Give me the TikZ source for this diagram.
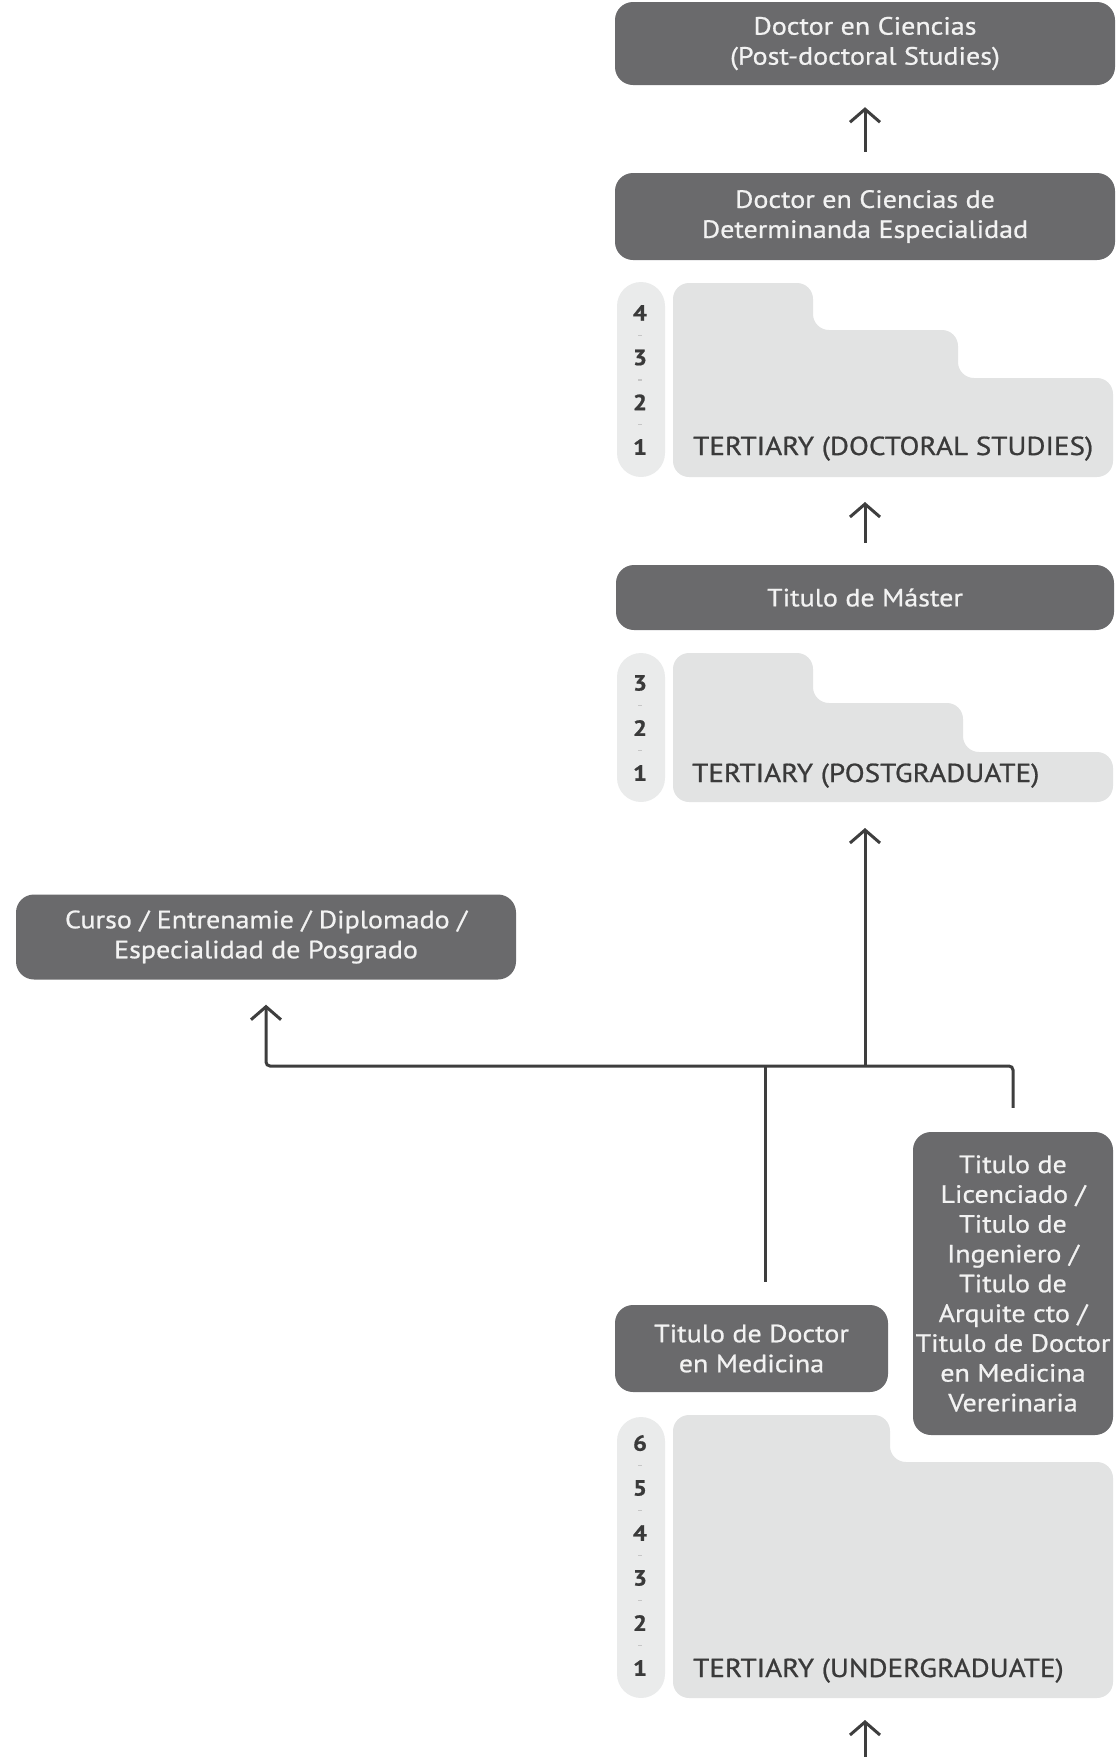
\documentclass[tikz,border=0pt]{standalone}
\usepackage{fontspec}
\setmainfont{PT Sans}[FakeStretch=1.12, FakeBold=0.8]
\usetikzlibrary{arrows.meta}
\definecolor{boxgray}{RGB}{106,106,108}
\definecolor{boxtext}{RGB}{242,242,242}
\definecolor{stagegray}{RGB}{226,227,227}
\definecolor{pillgray}{RGB}{234,235,235}
\definecolor{linegray}{RGB}{62,62,62}
\definecolor{labelgray}{RGB}{58,58,58}
\begin{document}
\begin{tikzpicture}[x=1pt,y=-1pt,
    link/.style={draw=linegray, line width=3pt},
    uparrow/.style={link, -{Straight Barb[length=13pt, width=30pt]}}]
			\useasboundingbox (0,0) rectangle (1119,1757);
			\begin{scope}[rounded corners=16pt]
				\fill[stagegray] (673,477) -- (673,283) -- (813,283) -- (813,330) -- (958,330) -- (958,378) -- (1113,378) -- (1113,477) -- cycle;
				\fill[stagegray] (673,802) -- (673,653) -- (813,653) -- (813,703) -- (963,703) -- (963,752) -- (1113,752) -- (1113,802) -- cycle;
				\fill[stagegray] (673,1698) -- (673,1415) -- (890,1415) -- (890,1462) -- (1113,1462) -- (1113,1698) -- cycle;
			\end{scope}
			\begin{scope}[rounded corners=24pt]
				\fill[pillgray] (617,282) rectangle (665,477);
				\fill[pillgray] (617,653) rectangle (665,802);
				\fill[pillgray] (617,1417) rectangle (665,1698);
			\end{scope}
			\coordinate (doc) at (865,477);
			\coordinate (pg) at (865,802);
			\coordinate (ug) at (865,1698);
			\coordinate (junc) at (865,1066);
			\coordinate (entry) at (865,1757);
			\begin{scope}[every node/.style={text=labelgray, font=\fontsize{22}{22}\selectfont\bfseries}]
				\foreach \n in {1,...,4} \node (docyr\n) at (640,{447-44.7*(\n-1)}) {\n};
				\foreach \n in {1,...,3} \node (pgyr\n) at (640,{773-45*(\n-1)}) {\n};
				\foreach \n in {1,...,6} \node (ugyr\n) at (640,{1668-45*(\n-1)}) {\n};
			\end{scope}
			\begin{scope}[every path/.style={draw=gray!45, line width=1.5pt}]
				\foreach \n in {1,...,3} \draw (638,{447-44.7*(\n-0.5)}) -- ++(4,0);
				\foreach \n in {1,...,2} \draw (638,{773-45*(\n-0.5)}) -- ++(4,0);
				\foreach \n in {1,...,5} \draw (638,{1668-45*(\n-0.5)}) -- ++(4,0);
			\end{scope}
			\begin{scope}[every node/.style={anchor=base west, inner sep=0pt, text=labelgray, font=\fontsize{26}{26}\selectfont}]
				\node (doclbl) at (693,455) {TERTIARY (DOCTORAL STUDIES)};
				\node (pglbl) at (692,782) {TERTIARY (POSTGRADUATE)};
				\node (uglbl) at (693,1677) {TERTIARY (UNDERGRADUATE)};
			\end{scope}
			\begin{scope}[every node/.style={fill=boxgray, text=boxtext, rounded corners=18pt, align=center, inner sep=0pt, font=\fontsize{25}{30}\selectfont}]
				\node[minimum width=500pt, minimum height=83pt] (postdoc) at (865,43.5) {Doctor en Ciencias\\(Post-doctoral Studies)};
				\node[minimum width=500pt, minimum height=87pt] (phd) at (865,216.5) {Doctor en Ciencias de\\Determinanda Especialidad};
				\node[minimum width=498pt, minimum height=65pt] (master) at (865,597.5) {Titulo de Máster};
				\node[minimum width=500pt, minimum height=85pt] (curso) at (266,937) {Curso / Entrenamie / Diplomado /\\Especialidad de Posgrado};
				\node[minimum width=273pt, minimum height=87pt] (med) at (751.5,1348.5) {Titulo de Doctor\\en Medicina};
				\node[minimum width=200pt, minimum height=303pt, font=\fontsize{25}{29.8}\selectfont] (lic) at (1013,1283.5) {Titulo de\\Licenciado /\\Titulo de\\Ingeniero /\\Titulo de\\Arquite cto /\\Titulo de Doctor\\en Medicina\\Vererinaria};
			\end{scope}
			\coordinate (medtop) at ([xshift=14pt]med.north);
			\begin{scope}[every edge/.style={uparrow}]
				\path (phd) edge[shorten <=21pt, shorten >=22pt] (postdoc);
				\path (master) edge[shorten <=22pt, shorten >=25pt] (doc);
				\path (junc) edge[shorten >=26pt] (pg);
				\path (entry) edge[shorten >=22pt] (ug);
			\end{scope}
			\draw[uparrow, rounded corners=4pt, shorten <=24pt, shorten >=25pt] (lic.north) |- (curso.south |- junc) -- (curso.south);
			\draw[link, shorten <=23pt] (medtop) -- (medtop |- junc);
		\end{tikzpicture}
\end{document}
